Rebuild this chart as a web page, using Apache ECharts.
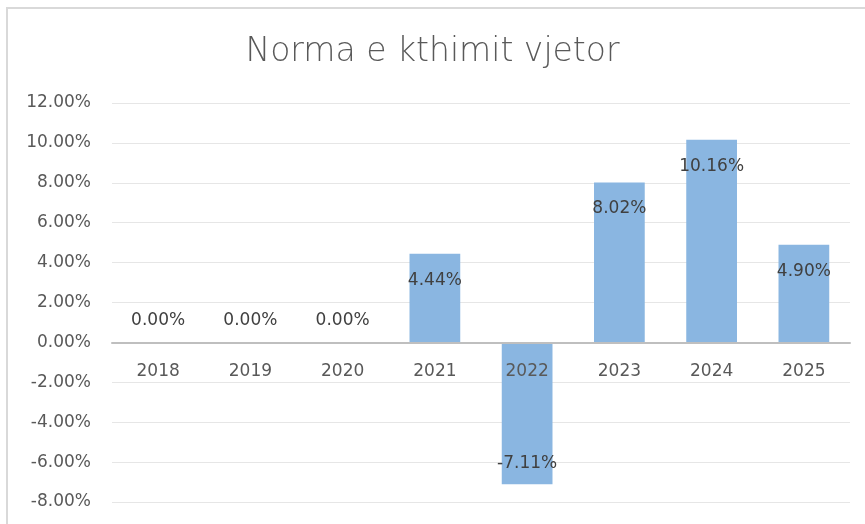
<!DOCTYPE html>
<html>
<head>
<meta charset="utf-8">
<script src="https://cdn.jsdelivr.net/npm/echarts@6/dist/echarts.min.js"></script>
<style>
html,body{margin:0;padding:0;background:#fff;}
#chart{width:865px;height:524px;}
</style>
</head>
<body>
<div id="chart"></div>
<script>
const titleText = 'Norma e kthimit vjetor';
const categories = ['2018','2019','2020','2021','2022','2023','2024','2025'];
const returns = [0.00, 0.00, 0.00, 4.44, -7.11, 8.02, 10.16, 4.90];
const yMin = -8, yMax = 12, yStep = 2;

const FONT = 'DejaVu Sans';
const chart = echarts.init(document.getElementById('chart'), null, {renderer:'canvas'});

const GRID_TOP = 103, GRID_BOTTOM = 22, H = 524;
const plotH = H - GRID_TOP - GRID_BOTTOM;
// shift the category axis from the bottom up to the zero value line
const zeroOffset = -plotH * (0 - yMin) / (yMax - yMin);

const barData = returns.map(v => ({
  value: v,
  label: v > 0 ? {position:'insideTop', distance:18}
       : v < 0 ? {position:'insideBottom', distance:12}
       : {position:'top', distance:13}
}));

chart.setOption({
  animation:false,
  backgroundColor:'#ffffff',
  graphic:[{
    type:'rect', silent:true, z:-10,
    shape:{x:7, y:8, width:920, height:620},
    style:{fill:'none', stroke:'#D9D9D9', lineWidth:2}
  }],
  title:{
    text:titleText, left:'center', top:31,
    textStyle:{fontFamily:FONT, fontSize:33, fontWeight:200, color:'#595959'}
  },
  grid:{left:112, right:15, top:GRID_TOP, bottom:GRID_BOTTOM, containLabel:false, outerBoundsMode:'none'},
  xAxis:{
    type:'category', data:categories, position:'bottom', offset:zeroOffset, z:5,
    axisLine:{onZero:false, lineStyle:{color:'#BFBFBF', width:2}},
    axisTick:{show:false},
    axisLabel:{fontFamily:FONT, fontSize:17, color:'#595959', margin:21},
    splitLine:{show:false}
  },
  yAxis:{
    type:'value', min:yMin, max:yMax, interval:yStep,
    axisLine:{show:false}, axisTick:{show:false},
    axisLabel:{fontFamily:FONT, fontSize:17, color:'#595959', margin:21,
      formatter:v => v.toFixed(2) + '%'},
    splitLine:{lineStyle:{color:'#E6E6E6', width:1}}
  },
  series:[{
    type:'bar', data:barData, barWidth:'55%',
    itemStyle:{color:'#8AB6E1'},
    label:{show:true, fontFamily:FONT, fontSize:17, color:'#404040',
      formatter:p => p.value.toFixed(2) + '%'}
  }]
});
</script>
</body>
</html>
